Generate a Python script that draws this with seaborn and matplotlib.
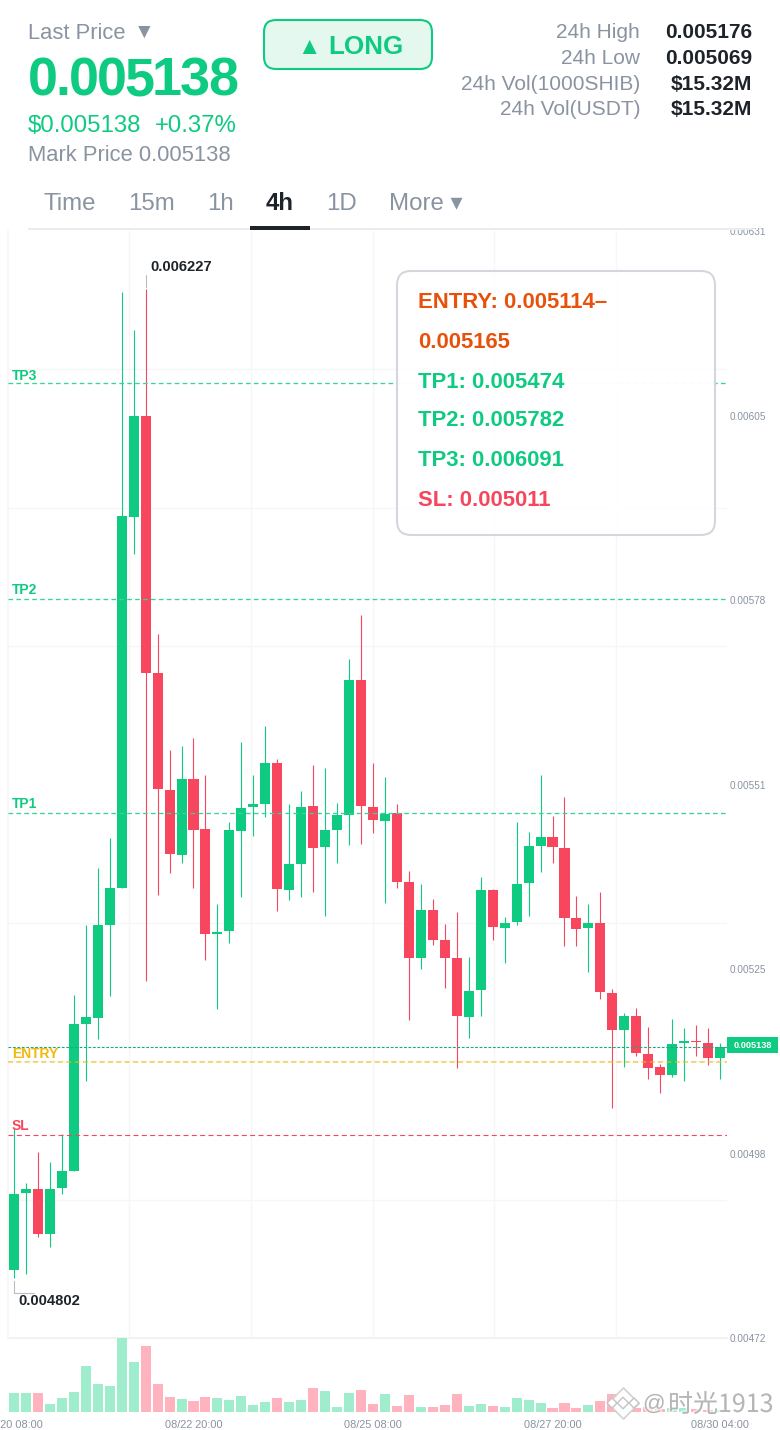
#!/usr/bin/env python3
# -*- coding: utf-8 -*-
import numpy as np
import pandas as pd
import seaborn as sns
import matplotlib.pyplot as plt
import matplotlib.patheffects as pe
from matplotlib.patches import FancyBboxPatch, Rectangle

# candle values, price x 1e-6
opens = [4818,4928,4934,4869,4935,4960,5171,5180,5313,5366,
         5899,6044,5675,5507,5414,5523,5451,5300,5305,5448,
         5483,5487,5546,5364,5401,5484,5425,5450,5471,5665,
         5483,5463,5474,5375,5266,5335,5292,5266,5181,5220,
         5364,5309,5317,5374,5427,5440,5424,5323,5309,5316,
         5215,5162,5183,5128,5109,5098,5144,5147,5144,5122]
closes = [4927,4934,4869,4934,4960,5171,5181,5313,5366,5901,
          6044,5675,5509,5415,5523,5450,5300,5303,5450,5481,
          5487,5546,5365,5401,5483,5424,5450,5471,5665,5484,
          5464,5473,5375,5266,5335,5292,5266,5183,5218,5364,
          5310,5316,5372,5427,5440,5425,5323,5307,5316,5217,
          5162,5183,5129,5108,5098,5142,5147,5145,5122,5138]
highs = [5022,4943,4987,4973,5013,5213,5313,5395,5438,6222,
         6168,6227,5731,5565,5570,5582,5529,5343,5461,5576,
         5529,5599,5552,5487,5506,5543,5539,5488,5695,5758,
         5546,5526,5487,5391,5372,5351,5315,5332,5267,5382,
         5365,5325,5461,5447,5529,5470,5497,5355,5343,5361,
         5221,5187,5194,5167,5114,5178,5165,5170,5165,5144]
lows = [4806,4812,4865,4851,4927,4960,5089,5149,5211,5366,
        5846,5233,5356,5388,5402,5366,5263,5193,5287,5353,
        5441,5468,5333,5349,5353,5361,5326,5402,5428,5430,
        5445,5345,5366,5177,5250,5285,5223,5108,5151,5183,
        5292,5259,5313,5326,5389,5402,5283,5283,5246,5207,
        5050,5109,5125,5092,5072,5095,5089,5125,5112,5092]
volume = [19,19,19,8,14,20,46,28,26,74,
          50,66,28,15,13,11,15,14,12,16,
          7,10,14,10,12,24,21,5,19,22,
          8,18,6,17,5,5,7,18,6,8,
          6,5,14,12,9,4,9,4,7,11,
          18,4,4,5,3,4,4,3,2,2]

price_ticks = ["0.00631","0.00605","0.00578","0.00551","0.00525","0.00498","0.00472"]
time_idx = [0,15,30,45,59]
time_labels = ["08/20 08:00","08/22 20:00","08/25 08:00","08/27 20:00","08/30 04:00"]
grid_idx = [9.65,19.8,30,40.1,50.3]

tp_levels = [("TP3",0.006091,380),("TP2",0.005782,594),("TP1",0.005474,808)]
entry_level = 0.005116
sl_level = 0.005011
last_price = 0.005138

tabs = [("Time",44,False),("15m",128,False),("1h",207,False),("4h",266,True),("1D",326,False),("More ▾",389,False)]
stats = [("24h High","0.005176",38),("24h Low","0.005069",64),("24h Vol(1000SHIB)","$15.32M",89.5),("24h Vol(USDT)","$15.32M",115)]
popup = [("ENTRY: 0.005114–",308,"#E8510A"),("0.005165",348,"#E8510A"),("TP1: 0.005474",388,"#0ECB81"),
         ("TP2: 0.005782",426,"#0ECB81"),("TP3: 0.006091",466,"#0ECB81"),("SL: 0.005011",506,"#F6465D")]

GREEN = "#0ECB81"
RED = "#F8465F"
GRAY = "#8A93A2"
DARK = "#1E2329"
GRID = "#F6F6F7"

df = pd.DataFrame({"i": range(len(opens)), "open": opens, "close": closes, "high": highs, "low": lows, "vol": volume})
for c in ["open","close","high","low"]:
    df[c] = df[c] / 1e6
df["up"] = df["close"] >= df["open"]
df["side"] = np.where(df["up"], "up", "down")
df["bottom"] = df[["open","close"]].min(axis=1)
df["body"] = (df["close"] - df["open"]).abs()

sns.set_theme(style="white")
plt.rcParams["font.family"] = ["Liberation Sans", "DejaVu Sans"]

W, H = 780, 1430
fig = plt.figure(figsize=(W/100, H/100), dpi=100)
def box(x0, y0, x1, y1):
    return [x0/W, 1-y1/H, (x1-x0)/W, (y1-y0)/H]

ax = fig.add_axes(box(8,231,727,1338))
axv = fig.add_axes(box(8,1338,727,1412))
top = fig.add_axes([0,0,1,1], zorder=5)
top.set_xlim(0,W); top.set_ylim(H,0); top.axis("off"); top.patch.set_alpha(0)

def label(x, y, s, **kw):
    # y is the text baseline in picture pixels
    kw.setdefault("va", "baseline")
    return top.text(x, y, s, **kw)

# wicks, then bodies
for up, col in [(True,GREEN),(False,RED)]:
    sub = df[df["up"]==up]
    ax.vlines(sub["i"], sub["low"], sub["high"], colors=col, lw=0.8, zorder=2)
    sns.barplot(data=sub, x="i", y="body", bottom=sub["bottom"].values, native_scale=True, color=col,
                saturation=1, width=0.84, errorbar=None, linewidth=0, ax=ax, zorder=3)

ax.set_xlim(-0.5,59.58)
ax.set_ylim(0.00472,0.00631)
ax.set_xlabel(""); ax.set_ylabel("")
ax.set_xticks(grid_idx)
ax.tick_params(axis="x", length=0, labelbottom=False)
ax.yaxis.tick_right()
ax.set_yticks(np.linspace(0.00631,0.00472,7))
ax.set_yticklabels(price_ticks, fontsize=7.2, color=GRAY)
ax.tick_params(axis="y", which="major", length=0, pad=2)
ax.set_yticks(np.linspace(0.00631,0.00472,9), minor=True)
ax.tick_params(axis="y", which="minor", length=0)
ax.grid(False)
ax.grid(True, axis="x", which="major", color=GRID, lw=1, zorder=0)
ax.grid(True, axis="y", which="minor", color=GRID, lw=1, zorder=0)
ax.set_axisbelow(True)
for s in ax.spines.values():
    s.set_visible(False)
ax.spines["left"].set_visible(True); ax.spines["left"].set_color(GRID)
ax.spines["bottom"].set_visible(True); ax.spines["bottom"].set_color("#F0F1F2")

# signal levels
for name, lev, ly in tp_levels:
    ax.axhline(lev, color="#35D49B", lw=0.95, ls=(0,(3.5,2.5)), zorder=4)
    label(12, ly, name, color=GREEN, fontsize=10, fontweight="bold")
ax.axhline(last_price, color="#1FA97B", lw=0.8, ls=(0,(2.5,1.5)), zorder=4)
ax.axhline(entry_level, color="#F0B90B", lw=1.2, ls=(0,(3,2)), alpha=0.65, zorder=4)
ax.axhline(sl_level, color=RED, lw=0.8, ls=(0,(4.5,3)), zorder=4)
label(12, 1058, "ENTRY", color="#F0B90B", fontsize=10, fontweight="bold")
label(12, 1130, "SL", color=RED, fontsize=10, fontweight="bold")

# volume
sns.barplot(data=df, x="i", y="vol", hue="side", palette={"up":"#A0EDCE","down":"#FFB3BE"}, native_scale=True,
            dodge=False, saturation=1, width=0.84, errorbar=None, linewidth=0, legend=False, ax=axv)
axv.set_xlim(-0.5,59.58)
axv.set_ylim(0,74)
axv.set_xlabel(""); axv.set_ylabel("")
axv.set_yticks([])
axv.set_xticks(time_idx)
axv.set_xticklabels(time_labels, fontsize=7.9, color=GRAY)
axv.tick_params(axis="x", length=0, pad=5.5)
axv.grid(False)
axv.patch.set_alpha(0)
sns.despine(ax=axv, left=True, bottom=True)

# high / low callouts
top.plot([146,146],[275,287], color="#B7BDC6", lw=0.8)
label(150, 271, "0.006227", color=DARK, fontsize=10.6, fontweight="bold")
top.plot([14,14,34],[1281,1293,1293], color="#B7BDC6", lw=0.8)
label(18, 1305, "0.004802", color=DARK, fontsize=10.6, fontweight="bold")

# last price tag
top.add_patch(Rectangle((727,1037),51,16, color=GREEN, lw=0))
top.text(752.5, 1045.5, "0.005138", color="white", fontsize=6.6, fontweight="bold", ha="center", va="center")

# signal box
top.add_patch(FancyBboxPatch((397+14,271+14),318-28,264-28, boxstyle="round,pad=14,rounding_size=14",
                             fc="white", ec="#D2D6DC", lw=1.5, alpha=0.97))
for txt, y, col in popup:
    label(418, y, txt, color=col, fontsize=15.9, fontweight="bold")

# header
top.add_patch(Rectangle((0,0),W,228, color="white", lw=0))
label(28, 39, "Last Price", color=GRAY, fontsize=15.8)
label(134, 38, "▼", color=GRAY, fontsize=15)
x = 28.0
for ch in "0.005138":
    label(x, 95, ch, color=GREEN, fontsize=38.9, fontweight="bold")
    x += (0.278 if ch == "." else 0.556) * 54 - 2.2
label(28, 132.5, "$0.005138", color=GREEN, fontsize=17.3)
label(155, 132.5, "+0.37%", color=GREEN, fontsize=17.3)
label(28, 161, "Mark Price 0.005138", color=GRAY, fontsize=15.8)

top.add_patch(FancyBboxPatch((264+12,20+12),168-24,49-24, boxstyle="round,pad=12,rounding_size=12",
                             fc="#E4F8F0", ec=GREEN, lw=1.5))
label(297, 54, "▲", color=GREEN, fontsize=17)
label(328, 54, "LONG", color=GREEN, fontsize=18.7, fontweight="bold")

for name, val, y in stats:
    label(640, y, name, color=GRAY, fontsize=15, ha="right")
    label(752, y, val, color=DARK, fontsize=15, fontweight="bold", ha="right")

for name, tx, bold in tabs:
    label(tx, 210, name, color=DARK if bold else GRAY, fontsize=17.3,
          fontweight="bold" if bold else "normal")
top.add_patch(Rectangle((28,228),724,2, color="#EBECEF", lw=0))
top.add_patch(Rectangle((250,226),60,4, color=DARK, lw=0))

# watermark
glow = [pe.withStroke(linewidth=2, foreground="white", alpha=0.7)]
top.scatter([623],[1403], marker="D", s=250, fc="white", ec="#CFCFCF", lw=1.2, alpha=0.92, zorder=6)
top.scatter([623,612,634],[1403,1403,1403], marker="D", s=[34,26,26], fc="white", ec="#C4C4C4", lw=1, zorder=7)
label(643, 1410, "@", color="#B5B5B5", fontsize=16, path_effects=glow, zorder=7)
label(668, 1412, "时光1913", color="#B5B5B5", fontsize=18, path_effects=glow, zorder=7,
      family=["Noto Sans CJK SC","DejaVu Sans"], fontweight="light")

plt.savefig("out.png", dpi=100)
